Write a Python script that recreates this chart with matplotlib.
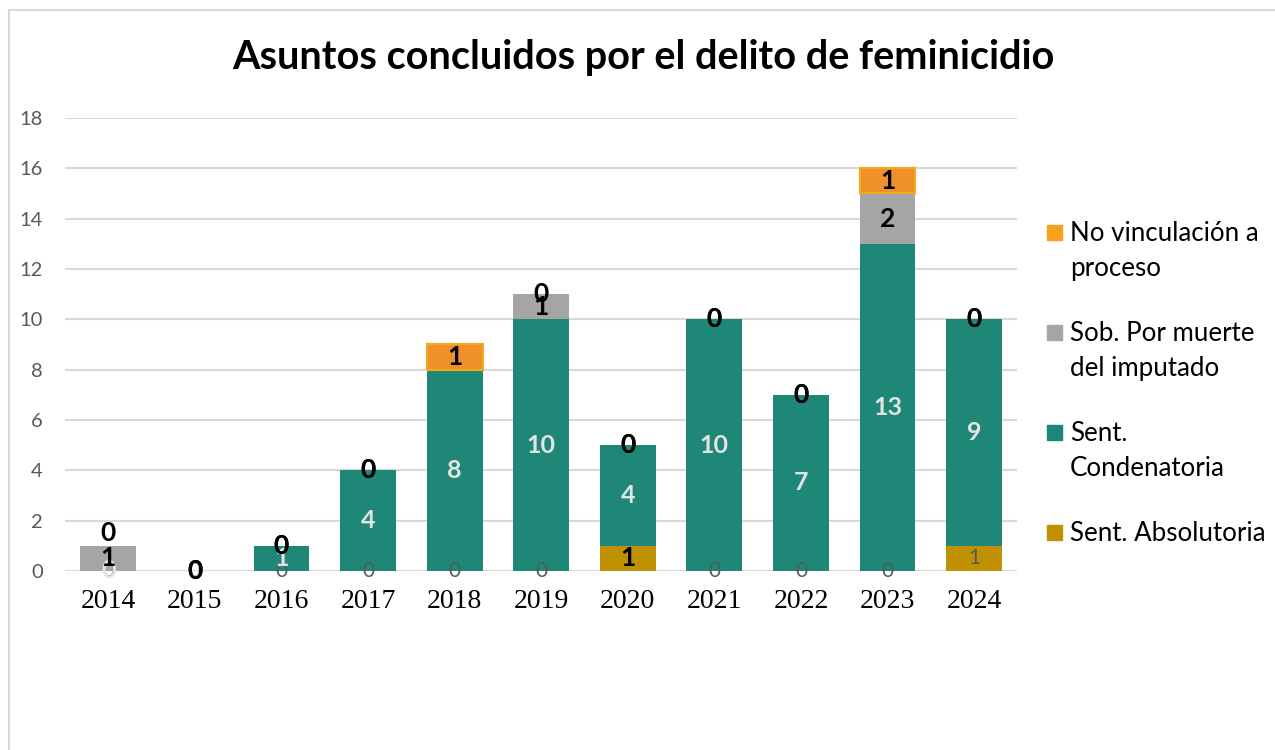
import numpy as np
import matplotlib
matplotlib.use("Agg")
import matplotlib.pyplot as plt
from matplotlib.patches import Rectangle

plt.rcParams['font.family'] = ['Lato', 'DejaVu Sans']

years = ["2014", "2015", "2016", "2017", "2018", "2019",
         "2020", "2021", "2022", "2023", "2024"]
absolutoria = [0, 0, 0, 0, 0, 0, 1, 0, 0, 0, 1]
condenatoria = [0, 0, 1, 4, 8, 10, 4, 10, 7, 13, 9]
sob_muerte = [1, 0, 0, 0, 0, 1, 0, 0, 0, 2, 0]
no_vinculacion = [0, 0, 0, 0, 1, 0, 0, 0, 0, 1, 0]

names = ["Sent. Absolutoria", "Sent.\nCondenatoria",
         "Sob. Por muerte\ndel imputado", "No vinculación a\nproceso"]
colors = ["#BF9000", "#1E8777", "#A5A5A5", "#F0902A"]
edges = ["#BF9000", "#1E8777", "#A5A5A5", "#F8A81C"]

fig = plt.figure(figsize=(12.75, 7.5), dpi=100)
ax = fig.add_axes([0.051, 0.2387, 0.747, 0.604])

# chart frame
fig.patches.append(Rectangle((8.5 / 1275, -0.1), 1.2, 0.1 + 739.5 / 750,
                             transform=fig.transFigure, fill=False,
                             edgecolor="#D9D9D9", linewidth=1.5))

x = np.arange(len(years))
series = [absolutoria, condenatoria, sob_muerte, no_vinculacion]
bottom = np.zeros(len(years))
lab_style = [
    dict(color="#595959", fontsize=15, fontweight="normal"),
    dict(color="#E3E3E3", fontsize=18, fontweight="bold"),
    dict(color="black", fontsize=19, fontweight="bold"),
    dict(color="black", fontsize=19, fontweight="bold"),
]
for k, vals in enumerate(series):
    vals = np.array(vals, dtype=float)
    lw = np.where(vals > 0, 1.5 if k == 3 else 0, 0)
    ax.bar(x, vals, 0.645, bottom=bottom, color=colors[k],
           edgecolor=edges[k], linewidth=lw, zorder=2)
    for i, v in enumerate(vals):
        st = dict(lab_style[k])
        if k == 0 and i == 6:
            st = dict(lab_style[3])
        # zero label hidden under the next label in the source chart
        if k == 2 and v == 0 and no_vinculacion[i] > 0:
            continue
        yl = bottom[i] + v / 2
        # the source moved this one up to clear the "1" below it
        if k == 3 and i == 0:
            yl += 0.5
        ax.text(x[i], yl, "%d" % v, ha="center", va="center",
                zorder=3 + k, **st)
    bottom += vals

ax.set_xlim(-0.5, len(years) - 0.5)
ax.set_ylim(0, 18)
ax.set_yticks(np.arange(0, 19, 2))
ax.set_xticks(x)
ax.set_xticklabels(years, fontsize=20, family="Liberation Serif")
ax.tick_params(axis="y", labelsize=14.5, labelcolor="#595959", length=0, pad=16)
ax.tick_params(axis="x", length=0, pad=13)
ax.grid(axis="y", color="#D9D9D9", linewidth=1.5, zorder=0)
ax.set_axisbelow(True)
for s in ["top", "right", "left", "bottom"]:
    ax.spines[s].set_visible(False)

fig.text(643 / 1275, 1 - 58 / 750, "Asuntos concluidos por el delito de feminicidio",
         ha="center", va="center", fontsize=28.5, fontweight="bold")

# legend
leg_y = [232, 332, 432, 532]
for k in range(3, -1, -1):
    yy = leg_y[3 - k]
    fig.patches.append(Rectangle((1047 / 1275, 1 - (yy + 8) / 750), 15 / 1275, 15 / 750,
                                 transform=fig.transFigure, color=colors[k] if k != 3 else "#F7A21B"))
    fig.text(1070 / 1275, 1 - (yy - 11) / 750, names[k], ha="left", va="top",
             fontsize=18.6, linespacing=1.5)

fig.savefig("out.png", dpi=100)
